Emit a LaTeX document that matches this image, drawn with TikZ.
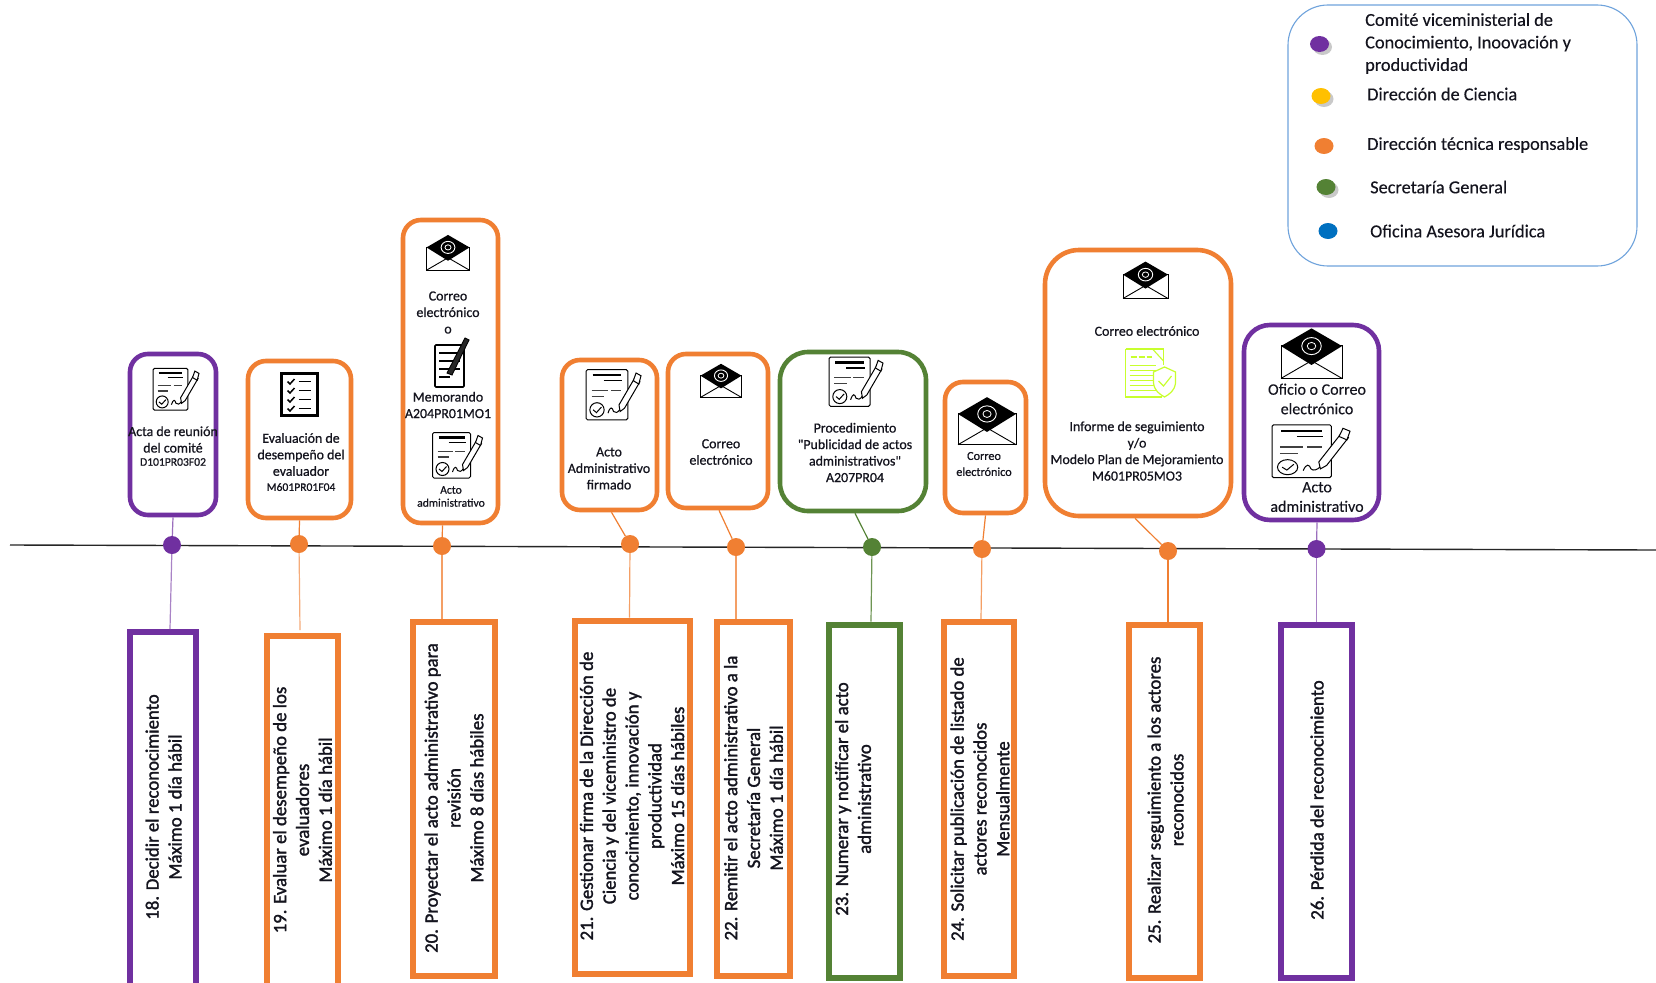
\documentclass[tikz,border=0pt]{standalone}
\usepackage{fontspec}
\setmainfont{Carlito}
\newfontfamily\hvf[FakeBold=1.6]{Carlito}
\newfontfamily\mdf[FakeBold=0.7]{Carlito}
\newfontfamily\lgf[FakeBold=0.2]{Carlito}
\usetikzlibrary{shapes.geometric,shadows,calc}
\definecolor{cpur}{HTML}{7030A0}
\definecolor{cora}{HTML}{F07F32}
\definecolor{cgre}{HTML}{548235}
\definecolor{cblu}{HTML}{0070C0}
\definecolor{cyel}{HTML}{FFC000}
\definecolor{cleg}{HTML}{6FA3DC}
\definecolor{clim}{HTML}{C8FF2E}
\definecolor{ctxt}{HTML}{14141E}
\tikzset{
  x=1pt,y=-1pt,
  card/.style={draw=#1,line width=4.6pt,fill=white,rounded corners=18pt,inner sep=0},
  slab/.style={draw=#1,line width=6pt,fill=white,inner sep=0},
  tdot/.style={circle,fill=#1,minimum size=18pt,inner sep=0},
  ldot/.style={ellipse,fill=#1,minimum width=19pt,minimum height=16pt,inner sep=0},
  lshad/.style={drop shadow={shadow xshift=3pt,shadow yshift=-3pt,opacity=.35,fill=black!60}},
  stem/.style={draw=#1,line width=1.2pt},
  tA/.style={inner sep=0,align=center,text=ctxt,font=\mdf\fontsize{13.9}{16.5}\selectfont},
  tS/.style={inner sep=0,align=center,text=ctxt,font=\mdf\fontsize{11.6}{13}\selectfont},
  tL/.style={inner sep=0,align=left,anchor=west,text=ctxt,font=\lgf\fontsize{18.3}{22.5}\selectfont},
  tR/.style={inner sep=0,align=center,rotate=90,text=ctxt,font=\hvf\fontsize{18.8}{22.8}\selectfont},
  envelope/.pic={
    \draw[black,line width=.9pt,fill=white] (-50,-14) rectangle (50,40);
    \fill[black] (-50,-13)--(0,-42)--(50,-13)--(0,18)--cycle;
    \draw[black,line width=.9pt] (-50,40)--(0,11)--(50,40);
    \draw[white,line width=.9pt] (0,-13) circle[x radius=16,y radius=14];
    \draw[white,line width=.8pt] (0,-13) circle[x radius=7,y radius=6];
  },
  signdoc/.pic={
    \draw[black,line width=1pt,fill=white,rounded corners=1.5pt] (-50,-46) rectangle (26,45);
    \draw[black,line width=2.2pt] (-38,-36)--(14,-36);
    \draw[black,line width=1.1pt] (-18,-26)--(16,-26);
    \draw[black!75,line width=1.3pt] (-40,-8)--(-10,-8) (-5,-8)--(14,-8) (-40,3)--(-17,3);
    \draw[black,line width=1pt] (-30,27) circle[radius=13];
    \draw[black,line width=1pt] (-37,27)--(-31,32)--(-22,22);
    \draw[black,line width=1pt] (-10,33) .. controls (-6,20) and (-2,22) .. (0,30) .. controls (3,34) and (8,32) .. (12,26);
    \draw[black,line width=1pt,fill=white] (12,30)--(10,18)--(38,-30)--(48,-24)--(20,24)--cycle;
    \draw[black,line width=1pt,fill=white] (36,-26)--(41,-40)--(50,-35)--(46,-20)--cycle;
  },
  checklist/.pic={
    \draw[black,line width=2.6pt,fill=white] (-18,-21) rectangle (18,21);
    \foreach \yy in {-13,-4,5,14}{
      \draw[black,line width=1.5pt] (-12,\yy)--(-9.5,\yy+2.5)--(-5,\yy-2.5);
      \draw[black,line width=1.5pt] (-1,\yy)--(11,\yy);
    }
  },
  memo/.pic={
    \draw[black,line width=1.6pt,fill=white,rounded corners=1pt] (-17,-17) rectangle (12,25);
    \draw[black,line width=1.3pt] (-13,-9)--(8,-9) (-13,-1)--(8,-1) (-13,7)--(8,7) (-13,15)--(-2,15);
    \draw[black,line width=.9pt,fill=black!85] (-5,11)--(13,-24)--(17,-22)--(0,13)--cycle;
  },
  shieldrep/.pic={
    \draw[clim,line width=1.1pt] (-26,-24)--(12,-24)--(12,-8) (-26,-24)--(-26,24)--(10,24);
    \draw[clim,line width=1.1pt] (1,-24)--(12,-12);
    \draw[clim,line width=1.2pt,dash pattern=on 6pt off 2pt] (-21,-16)--(0,-16);
    \foreach \yy in {-8,-3,2,7,12,17}{\draw[clim,line width=.9pt] (-22,\yy)--(4,\yy);}
    \draw[clim,line width=1.2pt,fill=white] (2,-1)--(13,-6)--(24,-1)--(24,10) .. controls (23,18) and (18,21) .. (13,24) .. controls (8,21) and (3,18) .. (2,10)--cycle;
    \draw[clim,line width=1.2pt] (7,8)--(12,13)--(20,3);
  }
}
\begin{document}
\begin{tikzpicture}
\clip (0,0) rectangle (1656,982);
\fill[white] (0,0) rectangle (1656,982);

% timeline
\coordinate (tlL) at (10,545);
\coordinate (tlR) at (1656,550);
\draw[line width=1.4pt,black!85] (tlL) -- (tlR);

% upper cards
\node[card=cpur,minimum width=86pt,minimum height=161pt] (c18) at (173,434.5) {};
\node[card=cora,minimum width=103pt,minimum height=157pt] (c19) at (299.5,439.5) {};
\node[card=cora,minimum width=95pt,minimum height=303pt] (c20) at (450.5,371.5) {};
\node[card=cora,minimum width=95pt,minimum height=150pt] (c21) at (609.5,435) {};
\node[card=cora,minimum width=100pt,minimum height=154pt] (c22) at (718,431) {};
\node[card=cgre,rounded corners=28pt,minimum width=146pt,minimum height=159pt] (c23) at (853,431.5) {};
\node[card=cora,minimum width=81pt,minimum height=131pt] (c24) at (985.5,447.5) {};
\node[card=cora,rounded corners=34pt,minimum width=186pt,minimum height=266pt] (c25) at (1138,383) {};
\node[card=cpur,rounded corners=26pt,minimum width=135pt,minimum height=195pt] (c26) at (1311.5,422.5) {};

% lower slabs
\node[slab=cpur,minimum width=66pt,minimum height=380pt] (s18) at (163,822) {};
\node[slab=cora,minimum width=71pt,minimum height=380pt] (s19) at (302,826) {};
\node[slab=cora,minimum width=82pt,minimum height=354pt] (s20) at (453.5,799) {};
\node[slab=cora,minimum width=115pt,minimum height=353pt] (s21) at (632.5,797) {};
\node[slab=cora,minimum width=73pt,minimum height=354pt] (s22) at (753,799) {};
\node[slab=cgre,minimum width=71pt,minimum height=353pt] (s23) at (864,801) {};
\node[slab=cora,minimum width=70pt,minimum height=354pt] (s24) at (979,799) {};
\node[slab=cora,minimum width=71pt,minimum height=353pt] (s25) at (1164,801) {};
\node[slab=cpur,minimum width=71pt,minimum height=353pt] (s26) at (1316,801) {};

% dots
\node[tdot=cpur] (d18) at (172,545) {};
\node[tdot=cora] (d19) at (299,544) {};
\node[tdot=cora] (d20) at (442,546) {};
\node[tdot=cora] (d21) at (630,544) {};
\node[tdot=cora] (d22) at (736,547) {};
\node[tdot=cgre] (d23) at (872,547) {};
\node[tdot=cora] (d24) at (982,549) {};
\node[tdot=cora] (d25) at (1168,551) {};
\node[tdot=cpur] (d26) at (1316.5,549) {};

% connectors card-dot
\draw[stem=cpur!70] (c18.south) -- (d18);
\draw[stem=cora] (c19.south) -- (d19);
\draw[stem=cora] ([xshift=-8pt]c20.south) -- (d20);
\draw[stem=cora] ([xshift=2pt]c21.south) -- (d21);
\draw[stem=cora] ([xshift=1pt]c22.south) -- (d22);
\draw[stem=cgre] ([xshift=2pt]c23.south) -- (d23);
\draw[stem=cora] (c24.south) -- (d24);
\draw[stem=cora] ([xshift=-3pt]c25.south) -- (d25);
\draw[stem=cpur!70] ([xshift=5.5pt]c26.south) -- (d26);

% connectors dot-slab
\draw[stem=cpur!60] (d18) -- ([xshift=7pt]s18.north);
\draw[stem=cora!65] (d19) -- ([xshift=-2pt,yshift=3pt]s19.north);
\draw[stem=cora!75] (d20) -- ([xshift=-11.5pt]s20.north);
\draw[stem=cora!75] (d21) -- ([xshift=-3pt]s21.north);
\draw[stem=cora!75] (d22) -- ([xshift=-17pt]s22.north);
\draw[stem=cgre!85] (d23) -- ([xshift=7pt]s23.north);
\draw[stem=cora!75] (d24) -- ([xshift=2pt]s24.north);
\draw[stem=cora] (d25) -- ([xshift=4pt]s25.north);
\draw[stem=cpur!60] (d26) -- ([xshift=.5pt]s26.north);

% rotated texts
\node[tR] (r18) at (163.5,807) {18. Decidir el reconocimiento\\Máximo 1 día hábil};
\node[tR] (r19) at (302.5,810) {19. Evaluar el desempeño de los\\evaluadores\\Máximo 1 día hábil};
\node[tR] (r20) at (454,798) {20. Proyectar el acto administrativo para\\revisión\\Máximo 8 días hábiles};
\node[tR] (r21) at (632,796) {21. Gestionar firma  de la Dirección de\\Ciencia y  del viceministro de\\conocimiento, innovación y\\productividad\\Máximo 15 días hábiles};
\node[tR] (r22) at (753.5,798) {22. Remitir el acto administrativo a la\\Secretaría General\\Máximo 1 día hábil};
\node[tR] (r23) at (853,799) {23. Numerar y notificar el acto\\administrativo};
\node[tR] (r24) at (980,799) {24. Solicitar publicación de listado de\\actores reconocidos\\Mensualmente};
\node[tR] (r25) at (1165.5,800) {25. Realizar seguimiento a los actores\\reconocidos};
\node[tR] (r26) at (1317,800) {26. Pérdida del reconocimiento};

% card 18
\pic[scale=.46] at (176,389.5) {signdoc};
\node[tA] (t18) at (173,439.5) {Acta de reunión\\del comité};
\node[tS] (k18) at (173,462) {D101PR03F02};
% card 19
\pic at (299.5,394.5) {checklist};
\node[tA] (t19) at (301,454.5) {Evaluación de\\desempeño del\\evaluador};
\node[tS] (k19) at (301,487) {M601PR01F04};
% card 20
\pic[scale=.43] at (448,253) {envelope};
\node[tA] (t20) at (448,312.5) {Correo\\electrónico\\o};
\pic at (452,362) {memo};
\node[tA] (t20b) at (448,405) {Memorando\\A204PR01MO1};
\pic[scale=.5] at (457.5,455.5) {signdoc};
\node[tS] (t20c) at (451,496.5) {Acto\\administrativo};
% card 21
\pic[scale=.55] at (613.5,395) {signdoc};
\node[tA] (t21) at (609,468.5) {Acto\\Administrativo\\firmado};
% card 22
\pic[scale=.41] at (721,381) {envelope};
\node[tA] (t22) at (721,452) {Correo\\electrónico};
% card 23
\pic[scale=.54] at (856,382) {signdoc};
\node[tA] (t23) at (855,452.5) {Procedimiento\\"Publicidad de actos\\administrativos"\\A207PR04};
% card 24
\pic[scale=.58] at (987,421.5) {envelope};
\node[tA,font=\mdf\fontsize{12.2}{16}\selectfont] (t24) at (984,464) {Correo\\electrónico};
% card 25
\pic[scale=.45] at (1145.5,280.5) {envelope};
\node[tA] (t25) at (1147,331) {Correo electrónico};
\pic at (1151.5,373) {shieldrep};
\node[tA] (t25b) at (1137,451) {Informe de seguimiento\\y/o\\Modelo Plan de Mejoramiento\\M601PR05MO3};
% card 26
\pic[scale=.61] at (1311.5,354) {envelope};
\node[tA,font=\lgf\fontsize{16}{19.5}\selectfont] (t26) at (1317,399) {Oficio o Correo\\electrónico};
\pic[xscale=.78,yscale=.58] at (1311,451.5) {signdoc};
\node[tA,font=\lgf\fontsize{16}{19.5}\selectfont] (t26b) at (1317,497) {Acto\\administrativo};

% legend
\node[draw=cleg,line width=1.1pt,fill=white,rounded corners=40pt,minimum width=349pt,minimum height=261pt,inner sep=0] (leg) at (1462.5,135.5) {};
\node[ldot=cpur,lshad] (l1) at (1319.5,44) {};
\node[ldot=cyel,lshad] (l2) at (1321,96) {};
\node[ldot=cora] (l3) at (1324,146) {};
\node[ldot=cgre,lshad] (l4) at (1326,187) {};
\node[ldot=cblu] (l5) at (1328,231) {};
\node[tL] (lt1) at (1365,43.5) {Comité viceministerial de\\Conocimiento, Inoovación y\\productividad};
\node[tL] (lt2) at (1367,94) {Dirección de Ciencia};
\node[tL] (lt3) at (1367,145) {Dirección técnica responsable};
\node[tL] (lt4) at (1370,187) {Secretaría General};
\node[tL] (lt5) at (1370,231) {Oficina Asesora Jurídica};
\end{tikzpicture}
\end{document}
